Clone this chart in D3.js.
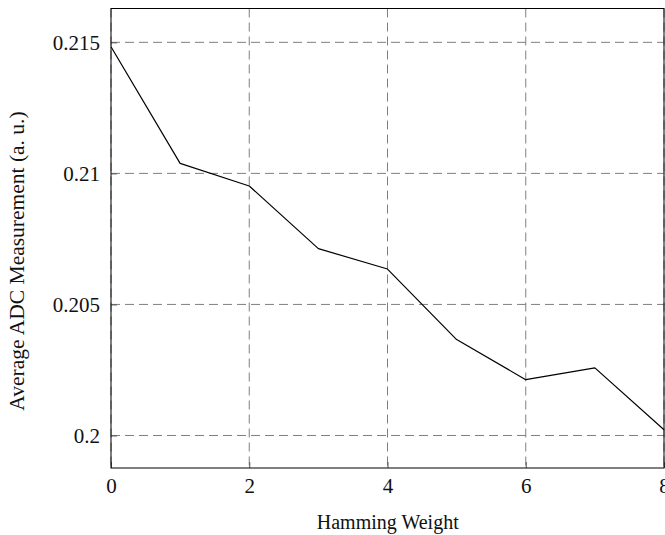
<!DOCTYPE html>
<html>
<head>
<meta charset="utf-8">
<script src="https://cdn.jsdelivr.net/npm/d3@7"></script>
<style>
  html, body { margin: 0; padding: 0; background: #fff; }
  svg { display: block; }
</style>
</head>
<body>
<div id="chart"></div>
<script>
// Average ADC reading per Hamming weight
const hammingWeights = [0, 1, 2, 3, 4, 5, 6, 7, 8];
const adcAverages = [0.21483, 0.21038, 0.20952, 0.20713, 0.20635, 0.20366, 0.20213, 0.20258, 0.20022];
const xTickValues = [0, 2, 4, 6, 8];
const yTickValues = [0.2, 0.205, 0.21, 0.215];
const yTickLabels = ["0.2", "0.205", "0.21", "0.215"];

const serif = "'Liberation Serif', 'Times New Roman', serif";

const width = 665, height = 535;
const margin = { left: 111, right: 0.5, top: 8.5, bottom: 67 };
const plotW = width - margin.left - margin.right;
const plotH = height - margin.top - margin.bottom;

const svg = d3.select("#chart").append("svg")
  .attr("width", width).attr("height", height)
  .style("font-family", serif);

const g = svg.append("g").attr("transform", `translate(${margin.left},${margin.top})`);

// y range padded by 10% of the data span
const yMin = d3.min(adcAverages), yMax = d3.max(adcAverages);
const pad = (yMax - yMin) * 0.1;

const x = d3.scaleLinear().domain([0, 8]).range([0, plotW - 0.5]);
const y = d3.scaleLinear().domain([yMin - pad, yMax + pad]).range([plotH, 0]);

// dashed grid
g.append("g").selectAll("line").data(xTickValues).join("line")
  .attr("x1", d => x(d)).attr("x2", d => x(d))
  .attr("y1", 0).attr("y2", plotH)
  .attr("stroke", "#7f7f7f").attr("stroke-width", 1)
  .attr("stroke-dasharray", "9,5");
g.append("g").selectAll("line").data(yTickValues).join("line")
  .attr("x1", 0).attr("x2", plotW)
  .attr("y1", d => y(d)).attr("y2", d => y(d))
  .attr("stroke", "#7f7f7f").attr("stroke-width", 1)
  .attr("stroke-dasharray", "9,5");

// axes with inward ticks
const xAxis = g.append("g").attr("transform", `translate(0,${plotH})`)
  .call(d3.axisBottom(x).tickValues(xTickValues).tickSizeInner(-6).tickSizeOuter(0).tickPadding(10)
    .tickFormat(d3.format("d")));
const yAxis = g.append("g")
  .call(d3.axisLeft(y).tickValues(yTickValues).tickSizeInner(-6).tickSizeOuter(0).tickPadding(11)
    .tickFormat((d, i) => yTickLabels[i]));

[xAxis, yAxis].forEach(a => {
  a.attr("font-family", null).style("font-family", serif).attr("font-size", 21);
  a.select(".domain").remove();
  a.selectAll(".tick line").attr("stroke", "#555");
  a.selectAll("text").attr("fill", "#111");
});
xAxis.selectAll("text").attr("dy", "0.71em");

// data line
g.append("path").datum(hammingWeights.map((h, i) => [h, adcAverages[i]]))
  .attr("fill", "none").attr("stroke", "#000").attr("stroke-width", 1.2)
  .attr("stroke-linejoin", "round")
  .attr("d", d3.line().x(d => x(d[0])).y(d => y(d[1])));

// frame
g.append("rect").attr("x", 0).attr("y", 0).attr("width", plotW - 0.5).attr("height", plotH)
  .attr("fill", "none").attr("stroke", "#000").attr("stroke-width", 1);

// axis titles
svg.append("text")
  .attr("x", margin.left + plotW / 2).attr("y", 529)
  .attr("text-anchor", "middle").attr("font-size", 20).attr("fill", "#111")
  .text("Hamming Weight");
svg.append("text")
  .attr("transform", "translate(24,261) rotate(-90)")
  .attr("text-anchor", "middle").attr("font-size", 21.5).attr("fill", "#111")
  .text("Average ADC Measurement (a. u.)");
</script>
</body>
</html>
